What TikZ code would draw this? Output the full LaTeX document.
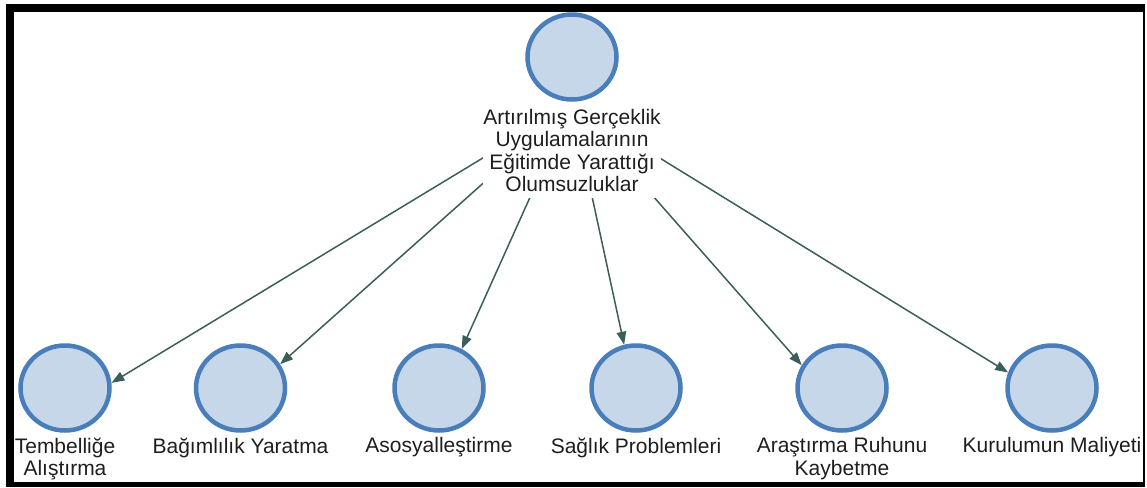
\documentclass[tikz,border=0pt]{standalone}
\usepackage{fontspec}
\setmainfont{Liberation Sans}
\usetikzlibrary{arrows.meta,shapes.geometric,intersections}
\definecolor{ringblue}{HTML}{4A7EBB}
\definecolor{discfill}{HTML}{C6D7EA}
\definecolor{linkgreen}{HTML}{3A5E5A}
\definecolor{inktext}{HTML}{1E1E1E}
\pgfdeclarelayer{links}
\pgfsetlayers{links,main}
\begin{document}
\begin{tikzpicture}[x=1pt,y=-1pt,
  disc/.style={ellipse, draw=ringblue, fill=discfill, line width=4.5pt,
    minimum width=89pt, minimum height=85pt, inner sep=0pt},
  caption/.style={font=\fontsize{21}{22.6}\selectfont, text=inktext,
    align=center, inner sep=0pt, anchor=north},
  link/.style={draw=linkgreen, line width=1.5pt,
    -{Triangle[length=13pt,width=9.5pt]}},
]
\useasboundingbox (0,0) rectangle (1147,487);

% outer frame
\fill (6,4) rectangle (1145,12);
\fill (6,4) rectangle (14,487);
\fill (1142.5,4) rectangle (1145,487);
\fill (6,482) rectangle (1145,487);

% root
\node[disc] (top) at (572,57) {};
\node[caption, fill=white, inner ysep=6pt] (topcap) at (572,102.7)
  {Artırılmış Gerçeklik\\Uygulamalarının\\Eğitimde Yarattığı\\Olumsuzluklar};
\coordinate (hub) at (572,104);

% children and their links
\foreach \px/\txt/\gy [count=\i] in {
    65/{Tembelliğe\\Alıştırma}/411,
    240.5/{Bağımlılık Yaratma}/399.5,
    439/{Asosyalleştirme}/399.5,
    636/{Sağlık Problemleri}/399.5,
    842/{Araştırma Ruhunu\\Kaybetme}/411,
    1052/{Kurulumun Maliyeti}/399.5} {
  \node[disc] (b\i) at (\px,388) {};
  \node[caption] (c\i) at (\px,437.5) {\txt};
  \coordinate (g\i) at (\px,\gy);
  \path[name path=ring] (b\i.center) ellipse [x radius=46.75pt, y radius=44.75pt];
  \path[name path=ray] (hub) -- (g\i);
  \path[name intersections={of=ring and ray, by=e\i}];
  \begin{pgfonlayer}{links}
    \draw[link] (hub) -- (e\i);
  \end{pgfonlayer}
}
\end{tikzpicture}
\end{document}
